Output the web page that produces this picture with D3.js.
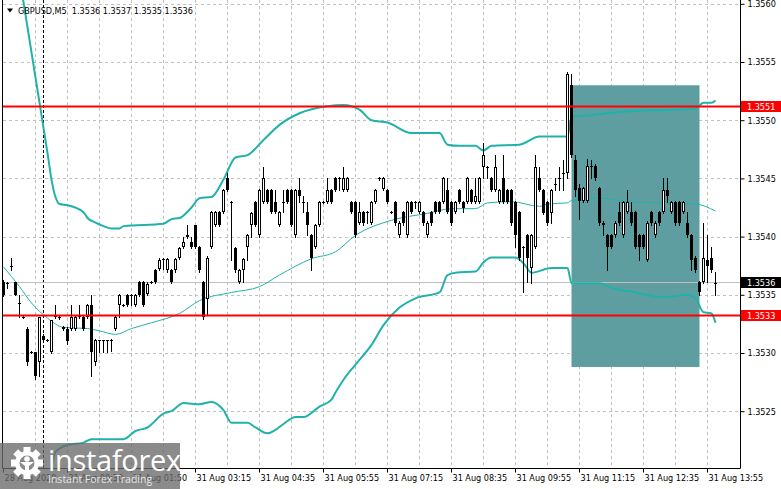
<!DOCTYPE html>
<html>
<head>
<meta charset="utf-8">
<script src="https://cdn.jsdelivr.net/npm/d3@7"></script>
<style>
  html, body { margin: 0; padding: 0; background: #fff; }
  svg { display: block; }
  text { font-family: "DejaVu Sans Condensed", "Liberation Sans", sans-serif; font-size: 9px; }
</style>
</head>
<body>
<svg id="chart" width="781" height="489"></svg>
<script>
const symbol = "GBPUSD,M5";

// M5 bars, left to right
const opens = [
  1.35361,1.35360,1.35375,1.35361,1.35343,1.35331,1.35321,1.35301,1.35301,1.35292,
  1.35315,1.35311,1.35301,1.35331,1.35331,1.35322,1.35321,1.35321,1.35321,1.35331,
  1.35331,1.35331,1.35341,1.35292,1.35310,1.35311,1.35310,1.35311,1.35321,1.35341,
  1.35341,1.35350,1.35350,1.35341,1.35361,1.35361,1.35351,1.35361,1.35371,1.35372,
  1.35381,1.35371,1.35371,1.35371,1.35382,1.35391,1.35400,1.35395,1.35410,1.35391,
  1.35361,1.35346,1.35391,1.35410,1.35421,1.35421,1.35450,1.35430,1.35390,1.35361,
  1.35371,1.35391,1.35410,1.35430,1.35401,1.35430,1.35440,1.35440,1.35430,1.35410,
  1.35430,1.35440,1.35440,1.35401,1.35440,1.35430,1.35421,1.35401,1.35391,1.35410,
  1.35430,1.35430,1.35440,1.35450,1.35450,1.35440,1.35440,1.35430,1.35430,1.35412,
  1.35421,1.35421,1.35412,1.35430,1.35450,1.35441,1.35440,1.35421,1.35430,1.35401,
  1.35421,1.35401,1.35430,1.35430,1.35421,1.35421,1.35401,1.35421,1.35430,1.35430,
  1.35430,1.35440,1.35430,1.35421,1.35440,1.35430,1.35430,1.35440,1.35430,1.35430,
  1.35460,1.35460,1.35450,1.35440,1.35430,1.35450,1.35440,1.35440,1.35430,1.35421,
  1.35391,1.35401,1.35373,1.35391,1.35450,1.35440,1.35430,1.35420,1.35445,1.35450,
  1.35455,1.35455,1.35530,1.35466,1.35442,1.35431,1.35431,1.35461,1.35461,1.35442,
  1.35412,1.35401,1.35401,1.35401,1.35421,1.35401,1.35421,1.35421,1.35421,1.35401,
  1.35401,1.35380,1.35421,1.35401,1.35421,1.35421,1.35440,1.35421,1.35430,1.35430,
  1.35421,1.35412,1.35401,1.35382,1.35361,1.35361,1.35380,1.35382,1.35360
];
const highs = [
  1.35363,1.35361,1.35382,1.35361,1.35350,1.35332,1.35322,1.35302,1.35301,1.35331,
  1.35316,1.35312,1.35328,1.35341,1.35332,1.35323,1.35322,1.35341,1.35332,1.35341,
  1.35332,1.35342,1.35350,1.35312,1.35311,1.35311,1.35311,1.35312,1.35332,1.35351,
  1.35342,1.35351,1.35351,1.35351,1.35362,1.35362,1.35361,1.35362,1.35372,1.35382,
  1.35382,1.35382,1.35372,1.35382,1.35391,1.35400,1.35410,1.35400,1.35410,1.35392,
  1.35362,1.35383,1.35422,1.35422,1.35422,1.35441,1.35455,1.35431,1.35391,1.35372,
  1.35382,1.35402,1.35421,1.35431,1.35441,1.35460,1.35441,1.35441,1.35440,1.35422,
  1.35440,1.35441,1.35441,1.35441,1.35450,1.35435,1.35430,1.35402,1.35411,1.35431,
  1.35431,1.35450,1.35441,1.35451,1.35451,1.35460,1.35451,1.35431,1.35431,1.35430,
  1.35422,1.35422,1.35431,1.35441,1.35451,1.35451,1.35441,1.35422,1.35431,1.35413,
  1.35422,1.35431,1.35431,1.35431,1.35431,1.35422,1.35413,1.35422,1.35431,1.35431,
  1.35451,1.35450,1.35431,1.35431,1.35441,1.35431,1.35451,1.35441,1.35450,1.35451,
  1.35480,1.35461,1.35451,1.35470,1.35441,1.35470,1.35441,1.35441,1.35431,1.35422,
  1.35392,1.35402,1.35402,1.35470,1.35460,1.35441,1.35431,1.35441,1.35450,1.35460,
  1.35466,1.35541,1.35540,1.35470,1.35445,1.35443,1.35467,1.35466,1.35462,1.35443,
  1.35413,1.35402,1.35402,1.35413,1.35430,1.35431,1.35440,1.35430,1.35422,1.35402,
  1.35402,1.35413,1.35422,1.35413,1.35422,1.35450,1.35450,1.35431,1.35431,1.35431,
  1.35431,1.35421,1.35402,1.35383,1.35362,1.35412,1.35401,1.35391,1.35370
];
const lows = [
  1.35349,1.35356,1.35371,1.35350,1.35331,1.35330,1.35290,1.35300,1.35278,1.35280,
  1.35310,1.35310,1.35300,1.35330,1.35329,1.35320,1.35308,1.35320,1.35320,1.35330,
  1.35320,1.35330,1.35280,1.35290,1.35301,1.35301,1.35301,1.35302,1.35320,1.35331,
  1.35340,1.35340,1.35341,1.35340,1.35349,1.35340,1.35350,1.35360,1.35360,1.35371,
  1.35372,1.35370,1.35360,1.35370,1.35381,1.35390,1.35399,1.35390,1.35390,1.35370,
  1.35329,1.35333,1.35390,1.35409,1.35409,1.35420,1.35439,1.35380,1.35370,1.35360,
  1.35361,1.35380,1.35400,1.35409,1.35400,1.35429,1.35429,1.35420,1.35420,1.35409,
  1.35421,1.35429,1.35409,1.35400,1.35430,1.35421,1.35401,1.35371,1.35390,1.35409,
  1.35429,1.35429,1.35429,1.35439,1.35440,1.35439,1.35439,1.35420,1.35400,1.35411,
  1.35410,1.35412,1.35411,1.35429,1.35449,1.35440,1.35429,1.35420,1.35410,1.35400,
  1.35410,1.35400,1.35420,1.35425,1.35420,1.35410,1.35400,1.35410,1.35420,1.35420,
  1.35429,1.35420,1.35410,1.35420,1.35429,1.35421,1.35429,1.35429,1.35429,1.35429,
  1.35450,1.35450,1.35439,1.35439,1.35429,1.35429,1.35429,1.35410,1.35391,1.35380,
  1.35352,1.35361,1.35360,1.35390,1.35439,1.35419,1.35410,1.35412,1.35440,1.35440,
  1.35440,1.35450,1.35468,1.35435,1.35415,1.35430,1.35430,1.35450,1.35449,1.35410,
  1.35401,1.35371,1.35390,1.35400,1.35410,1.35400,1.35420,1.35410,1.35390,1.35380,
  1.35390,1.35379,1.35410,1.35400,1.35410,1.35420,1.35430,1.35420,1.35410,1.35410,
  1.35420,1.35400,1.35371,1.35370,1.35350,1.35360,1.35361,1.35370,1.35350
];
const closes = [
  1.35350,1.35360,1.35374,1.35350,1.35343,1.35330,1.35292,1.35301,1.35280,1.35331,
  1.35311,1.35311,1.35328,1.35333,1.35330,1.35321,1.35310,1.35331,1.35331,1.35332,
  1.35321,1.35341,1.35301,1.35311,1.35311,1.35310,1.35311,1.35311,1.35331,1.35350,
  1.35341,1.35341,1.35350,1.35350,1.35350,1.35341,1.35359,1.35361,1.35361,1.35380,
  1.35381,1.35381,1.35361,1.35381,1.35390,1.35395,1.35401,1.35391,1.35391,1.35371,
  1.35331,1.35382,1.35421,1.35421,1.35410,1.35440,1.35440,1.35430,1.35371,1.35371,
  1.35381,1.35401,1.35420,1.35410,1.35440,1.35450,1.35430,1.35421,1.35421,1.35421,
  1.35430,1.35430,1.35410,1.35440,1.35435,1.35430,1.35410,1.35382,1.35410,1.35430,
  1.35430,1.35440,1.35430,1.35440,1.35450,1.35450,1.35450,1.35421,1.35401,1.35421,
  1.35412,1.35420,1.35430,1.35440,1.35450,1.35450,1.35430,1.35421,1.35412,1.35412,
  1.35412,1.35430,1.35421,1.35430,1.35430,1.35412,1.35412,1.35412,1.35421,1.35421,
  1.35450,1.35421,1.35412,1.35430,1.35430,1.35425,1.35450,1.35430,1.35435,1.35450,
  1.35470,1.35460,1.35440,1.35460,1.35440,1.35430,1.35430,1.35412,1.35401,1.35382,
  1.35391,1.35382,1.35401,1.35460,1.35440,1.35420,1.35412,1.35440,1.35445,1.35450,
  1.35455,1.35540,1.35470,1.35440,1.35431,1.35442,1.35461,1.35460,1.35450,1.35412,
  1.35410,1.35391,1.35391,1.35412,1.35412,1.35430,1.35430,1.35412,1.35391,1.35391,
  1.35391,1.35412,1.35412,1.35412,1.35412,1.35440,1.35435,1.35430,1.35412,1.35412,
  1.35430,1.35401,1.35380,1.35371,1.35352,1.35382,1.35375,1.35371,1.35360
];

// Bollinger Bands: bar index -> price
const upperBar = [4,11,12,13,14,16,20,21,23,25,27,29,30,40,42,44,47,49,52,55,58,61,65,69,74,81,85,89,92,96,
  102,109,111,114,118,120,122,129,134,141,142,146,154,173,175,177,178];
const upperBand = [1.35623,1.35472,1.35449,1.35434,1.35428,1.35427,1.35421,1.35416,1.35412,1.35409,
  1.35407,1.35407,1.35409,1.35411,1.35415,1.35416,1.35425,1.35433,1.35434,1.35449,
  1.35468,1.35470,1.35483,1.35496,1.35506,1.35512,1.35513,1.35509,1.35500,1.35498,
  1.35489,1.35489,1.35479,1.35478,1.35478,1.35474,1.35478,1.35479,1.35486,1.35486,
  1.35503,1.35504,1.35507,1.35510,1.35515,1.35515,1.35517];
const middleBar = [0,4,7,11,15,21,24,28,32,37,44,49,57,64,69,77,83,88,97,106,112,118,121,127,134,136,141,142,149,156,164,173,178];
const middleBand = [1.35374,1.35357,1.35343,1.35330,1.35322,1.35321,1.35319,1.35316,1.35321,1.35326,
  1.35334,1.35345,1.35352,1.35357,1.35367,1.35381,1.35387,1.35401,1.35414,1.35420,
  1.35424,1.35424,1.35429,1.35430,1.35426,1.35428,1.35429,1.35431,1.35433,1.35430,
  1.35429,1.35428,1.35422];
const lowerBar = [11,12,13,16,20,22,30,33,36,40,42,45,49,52,55,57,61,63,66,68,70,73,75,79,82,83,85,88,92,95,
  99,103,109,111,113,118,120,122,128,130,132,137,141,142,149,152,158,165,171,173,175,177,178];
const lowerBand = [1.35130,1.35195,1.35215,1.35221,1.35223,1.35226,1.35226,1.35233,1.35236,1.35248,
  1.35250,1.35257,1.35256,1.35258,1.35251,1.35240,1.35240,1.35236,1.35231,1.35234,
  1.35239,1.35245,1.35245,1.35254,1.35260,1.35266,1.35277,1.35290,1.35307,1.35324,
  1.35339,1.35347,1.35352,1.35367,1.35369,1.35370,1.35378,1.35382,1.35382,1.35377,
  1.35369,1.35373,1.35373,1.35360,1.35360,1.35356,1.35352,1.35348,1.35350,1.35347,
  1.35335,1.35334,1.35326];

const timeTickBars = [0,16,32,48,64,80,96,112,128,144,160,176];
const timeTickLabels = ["28 Aug 2020","31 Aug 00:30","31 Aug 01:50","31 Aug 03:15","31 Aug 04:35","31 Aug 05:55",
  "31 Aug 07:15","31 Aug 08:35","31 Aug 09:55","31 Aug 11:15","31 Aug 12:35","31 Aug 13:55"];
const priceTicks = [1.3525,1.3530,1.3535,1.3540,1.3545,1.3550,1.3555,1.3560];

const separatorBar = 10;          // 31 Aug 00:00
const levels = [1.35512, 1.35333]; // red horizontal lines
const bidPrice = 1.35361;
const boxBars = [142, 174];
const boxPrices = [1.35288, 1.35530];

const svg = d3.select("#chart");
const left = 3, right = 740, bottom = 468;
const n = closes.length;
const fmt = d3.format(".4f");

const x = d3.scaleLinear().domain([0, n - 1]).range([3.5, 3.5 + 4 * (n - 1)]);
const y = d3.scaleLinear().domain([1.3525, 1.3560]).range([411.2, 3.8]);
const py = p => Math.round(y(p));

svg.append("rect").attr("width", 781).attr("height", 489).attr("fill", "#fff");

svg.append("defs").append("clipPath").attr("id", "plot-clip")
  .append("rect").attr("x", left).attr("y", 0).attr("width", right - left).attr("height", bottom);

// grid
const grid = svg.append("g").attr("stroke", "#c0c0c0").attr("stroke-dasharray", "3,3");
grid.selectAll(".hg").data(priceTicks).join("line")
  .attr("x1", left).attr("x2", right)
  .attr("y1", d => py(d) + 0.5).attr("y2", d => py(d) + 0.5);
grid.selectAll(".vg").data(d3.range(8, n, 8)).join("line")
  .attr("x1", d => x(d)).attr("x2", d => x(d))
  .attr("y1", 0).attr("y2", bottom);

// zone box
svg.append("rect")
  .attr("x", x(boxBars[0])).attr("width", x(boxBars[1]) - x(boxBars[0]))
  .attr("y", y(boxPrices[1])).attr("height", y(boxPrices[0]) - y(boxPrices[1]))
  .attr("fill", "#5f9ea0");

// period separator
svg.append("line")
  .attr("x1", x(separatorBar)).attr("x2", x(separatorBar))
  .attr("y1", 0).attr("y2", bottom)
  .attr("stroke", "#000").attr("stroke-dasharray", "3,2");

// bid line
svg.append("line")
  .attr("x1", left).attr("x2", right)
  .attr("y1", py(bidPrice) + 0.5).attr("y2", py(bidPrice) + 0.5)
  .attr("stroke", "#c0c0c0");

// bands
const bandLine = (bars, vals) => d3.line()
  .x((d, k) => x(bars[k])).y(d => y(d))
  .curve(d3.curveMonotoneX)(vals);
const bands = svg.append("g").attr("clip-path", "url(#plot-clip)").attr("fill", "none").attr("stroke", "#20b2aa");
bands.append("path").attr("d", bandLine(upperBar, upperBand)).attr("stroke-width", 2);
bands.append("path").attr("d", bandLine(middleBar, middleBand)).attr("stroke-width", 1);
bands.append("path").attr("d", bandLine(lowerBar, lowerBand)).attr("stroke-width", 2);

// candles
const bars = closes.map((c, i) => ({ i, o: opens[i], h: highs[i], l: lows[i], c }));
const candle = svg.append("g").attr("clip-path", "url(#plot-clip)")
  .selectAll("g").data(bars).join("g");
candle.append("line")
  .attr("x1", d => x(d.i)).attr("x2", d => x(d.i))
  .attr("y1", d => py(d.h)).attr("y2", d => py(d.l) + 1)
  .attr("stroke", "#000");
candle.each(function(d) {
  const g = d3.select(this);
  const top = py(Math.max(d.o, d.c)), bot = py(Math.min(d.o, d.c));
  if (bot - top <= 1) {
    g.append("line")
      .attr("x1", x(d.i) - 1.5).attr("x2", x(d.i) + 1.5)
      .attr("y1", top + 0.5).attr("y2", top + 0.5)
      .attr("stroke", "#000");
  } else {
    g.append("rect")
      .attr("x", x(d.i) - 1).attr("width", 2)
      .attr("y", top + 0.5).attr("height", bot - top - 1)
      .attr("fill", d.c > d.o ? "#fff" : "#000")
      .attr("stroke", "#000");
  }
});

// red levels
svg.selectAll(".level").data(levels).join("line")
  .attr("x1", left).attr("x2", right)
  .attr("y1", d => py(d) + 0.5).attr("y2", d => py(d) + 0.5)
  .attr("stroke", "#ff0000").attr("stroke-width", 2);

// frame
svg.append("path")
  .attr("d", `M${left - 0.5},0V${bottom + 0.5}H${right + 0.5}V0`)
  .attr("fill", "none").attr("stroke", "#000");

// axes
svg.append("g")
  .attr("transform", `translate(${right + 0.5},0)`)
  .call(d3.axisRight(y).tickValues(priceTicks).tickFormat(fmt).tickSize(4).tickPadding(3).tickSizeOuter(0))
  .call(g => g.select(".domain").remove())
  .call(g => g.selectAll("text").attr("fill", "#000"));

svg.append("g")
  .attr("transform", `translate(0,${bottom + 0.5})`)
  .call(d3.axisBottom(x).tickValues(timeTickBars).tickFormat((d, k) => timeTickLabels[k])
    .tickSize(4).tickPadding(2).tickSizeOuter(0).offset(0))
  .call(g => g.select(".domain").remove())
  .call(g => g.selectAll("text").attr("text-anchor", "start").attr("x", 1).attr("fill", "#000"));

// price tags on the right scale
const tags = [
  { p: levels[0], fill: "#ff0000" },
  { p: bidPrice, fill: "#000" },
  { p: levels[1], fill: "#ff0000" }
];
const tag = svg.selectAll(".tag").data(tags).join("g")
  .attr("transform", d => `translate(${right + 1},${py(d.p) + 0.5})`);
tag.append("rect").attr("x", 0).attr("y", -5.5).attr("width", 40).attr("height", 11).attr("fill", d => d.fill);
tag.append("text").attr("x", 6).attr("dy", "0.35em").attr("fill", "#fff").text(d => fmt(d.p));

// header
svg.append("path").attr("d", "M7,8.5H13L10,12.5Z").attr("fill", "#000");
const last = n - 1;
svg.append("text").attr("x", 18).attr("y", 14).style("white-space", "pre").attr("fill", "#000")
  .text(`${symbol}  ${fmt(opens[last])} ${fmt(highs[last])} ${fmt(lows[last])} ${fmt(closes[last])}`);

// watermark
const wm = svg.append("g");
wm.append("rect").attr("x", 0).attr("y", 443).attr("width", 180).attr("height", 46)
  .attr("fill", "#6a6a6a").attr("opacity", 0.78);
const gear = wm.append("g").attr("transform", "translate(27,463)");
d3.range(8).forEach(k => gear.append("rect")
  .attr("x", -3.5).attr("y", -16).attr("width", 7).attr("height", 8)
  .attr("fill", "#fff").attr("transform", `rotate(${k * 45})`));
gear.append("circle").attr("r", 12).attr("fill", "#fff");
gear.append("circle").attr("r", 7.5).attr("fill", "#8a8a8a");
gear.append("circle").attr("cy", -4).attr("r", 2.8).attr("fill", "#fff");
gear.append("path").attr("d", "M-7,-1H7L2,3V12H-2V3Z").attr("fill", "#fff");
wm.append("text").attr("x", 48).attr("y", 471).attr("fill", "#fff")
  .style("font-family", "'Open Sans', sans-serif").style("font-size", "29px").style("letter-spacing", "-0.3px")
  .text("instaforex");
wm.append("text").attr("x", 48).attr("y", 483).attr("fill", "#e6e6e6")
  .style("font-family", "'Open Sans', sans-serif").style("font-size", "10.5px")
  .text("Instant Forex Trading");
</script>
</body>
</html>
